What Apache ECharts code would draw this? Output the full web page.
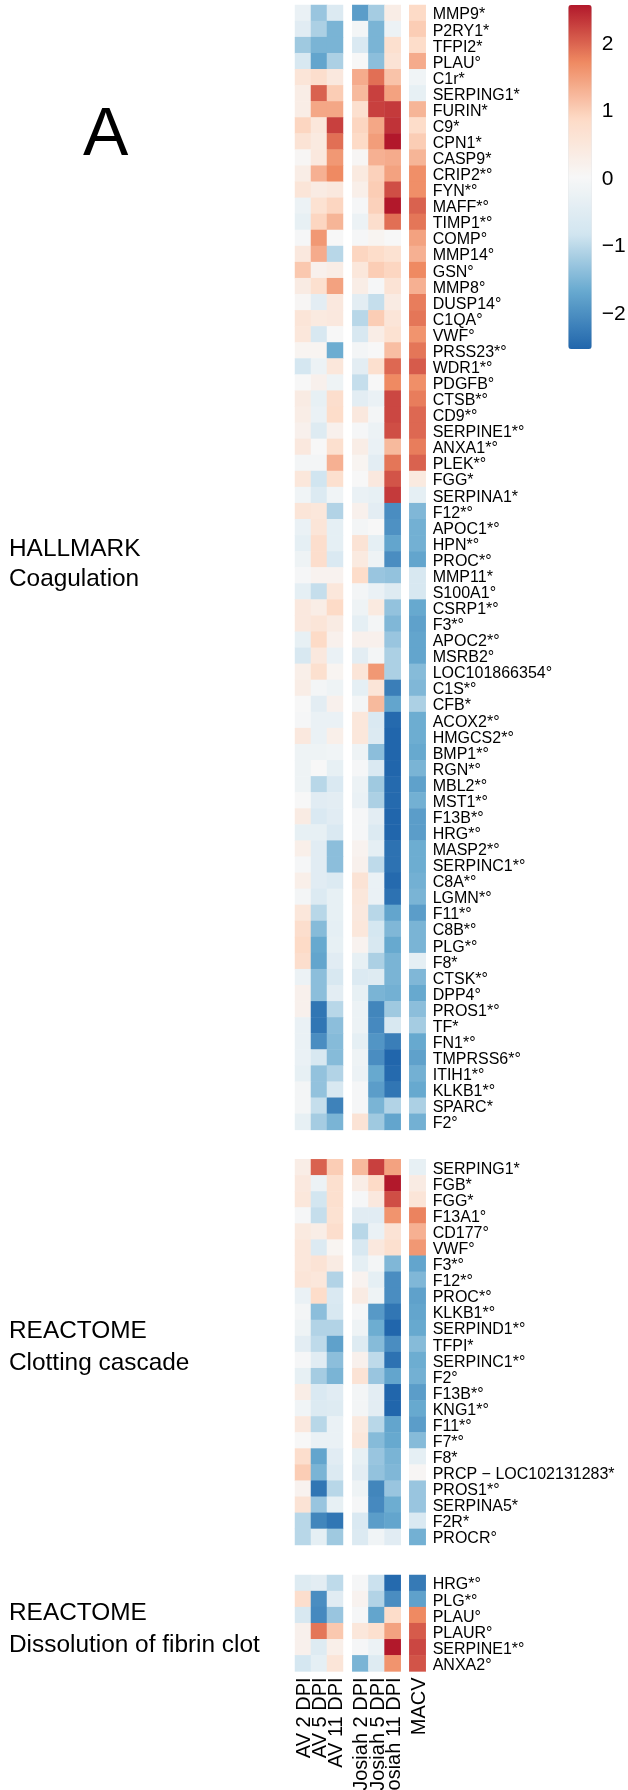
<!DOCTYPE html>
<html><head><meta charset="utf-8">
<style>html,body{margin:0;padding:0;background:#fff}#c{width:628px;height:1790px}</style>
<script src="https://cdn.jsdelivr.net/npm/echarts@6/dist/echarts.min.js"></script>
</head><body><div id="c"></div>
<script>
const colLabels = ['AV 2 DPI','AV 5 DPI','AV 11 DPI','Josiah 2 DPI','Josiah 5 DPI','Josiah 11 DPI','MACV'];
const colorTicks = [-2,-1,0,1,2];
const rampColors = ['#2166AC','#67A9CF','#D1E5F0','#F7F7F7','#FDDBC7','#EF8A62','#B2182B'];

const hallmarkGenes = ['MMP9*','P2RY1*','TFPI2*','PLAU°','C1r*','SERPING1*','FURIN*','C9*','CPN1*','CASP9*','CRIP2*°','FYN*°','MAFF*°','TIMP1*°','COMP°','MMP14°','GSN°','MMP8°','DUSP14°','C1QA°','VWF°','PRSS23*°','WDR1*°','PDGFB°','CTSB*°','CD9*°','SERPINE1*°','ANXA1*°','PLEK*°','FGG*','SERPINA1*','F12*°','APOC1*°','HPN*°','PROC*°','MMP11*','S100A1°','CSRP1*°','F3*°','APOC2*°','MSRB2°','LOC101866354°','C1S*°','CFB*','ACOX2*°','HMGCS2*°','BMP1*°','RGN*°','MBL2*°','MST1*°','F13B*°','HRG*°','MASP2*°','SERPINC1*°','C8A*°','LGMN*°','F11*°','C8B*°','PLG*°','F8*','CTSK*°','DPP4°','PROS1*°','TF*','FN1*°','TMPRSS6*°','ITIH1*°','KLKB1*°','SPARC*','F2°'];
const hallmarkValues = [
[-0.3,-1.3,-0.6,-1.85,-1.2,0.3,0.85],
[-0.5,-1.15,-1.55,-0.1,-1.55,-0.25,1.0],
[-1.25,-1.55,-1.55,-0.65,-1.55,0.7,0.8],
[-0.7,-1.75,-1.15,0,-1.4,0.6,1.35],
[0.55,0.75,0.45,1.35,1.9,1.1,-0.15],
[0.3,2.0,1.0,1.2,2.25,1.45,-0.35],
[0.3,1.4,1.4,0.7,2.25,2.3,1.25],
[0.9,0.5,2.25,0.9,1.4,2.35,0.8],
[0.6,0.4,1.9,0.85,1.5,2.55,1.0],
[0.05,0.45,1.55,0.05,1.3,1.35,1.25],
[0.3,1.3,1.7,0.4,0.95,1.45,1.65],
[0.55,0.35,0.45,0.25,1.0,2.15,1.65],
[-0.25,0.65,0.9,-0.05,0.95,2.55,2.0],
[-0.35,0.9,1.25,-0.25,0.75,1.9,1.85],
[-0.05,1.55,0,-0.05,0.1,0,1.45],
[0.45,1.35,-1.05,0.9,0.8,0.65,1.3],
[1.05,0.2,0.3,0.5,1.0,0.9,1.7],
[0.35,0.7,1.45,0.3,-0.05,0.6,1.3],
[0.05,-0.45,0.45,-0.45,-0.95,0.35,1.8],
[0.55,0.4,0.45,-1.05,1.0,0.55,1.85],
[0.5,-0.7,0,-0.7,0.3,0.65,1.6],
[0.1,0.1,-1.65,-0.1,0,1.15,1.85],
[-0.75,-0.25,0.5,-0.45,0.7,1.95,2.05],
[0,0.2,-0.2,-0.95,0,1.7,1.65],
[0.35,-0.35,0.75,-0.45,-0.3,2.2,1.8],
[0.3,-0.3,0.8,0.45,-0.1,2.2,1.95],
[0.2,-0.55,0.2,-0.05,-0.25,2.15,1.95],
[0.45,0,0.7,0.3,-0.3,1.2,1.8],
[-0.1,-0.1,1.3,0.1,-0.45,1.85,2.0],
[0.5,-0.85,0.7,0,0.45,2.1,0.4],
[-0.15,-0.6,-0.15,-0.3,-0.35,2.3,-0.4],
[0.55,0.5,-1.1,0.2,-0.45,-2.05,-1.5],
[-0.3,0.55,-0.4,-0.1,0,-2.0,-1.6],
[-0.4,0.75,-0.4,0.6,-0.4,-1.75,-1.6],
[-0.2,0.75,-0.65,0.4,-0.2,-2.05,-1.75],
[-0.05,0.15,0.15,0.8,-1.3,-1.35,-0.7],
[-0.4,-0.95,0.5,-0.1,-0.3,-0.55,-0.7],
[0.45,0.3,0.85,-0.2,0.4,-1.35,-1.7],
[0.45,0.55,0.35,-0.4,-0.1,-1.5,-1.8],
[-0.35,0.85,0.2,0.2,0.2,-1.3,-1.75],
[-0.7,0.45,-0.3,-0.45,-0.1,-1.15,-1.75],
[0.25,0.7,0.1,0.55,1.55,-1.15,-1.45],
[0.3,-0.1,-0.2,-0.4,0.55,-2.25,-1.5],
[0,-0.45,0.2,-0.1,1.2,-1.75,-1.15],
[-0.05,-0.3,-0.3,0.5,-0.65,-2.5,-1.65],
[0.45,-0.3,0.25,0.5,-0.6,-2.55,-1.65],
[-0.2,-0.2,-0.15,-0.2,-1.4,-2.55,-1.7],
[-0.2,0,-0.35,-0.05,-0.65,-2.55,-1.55],
[-0.2,-1.05,-0.65,-0.25,-1.25,-2.5,-1.8],
[0,-0.5,-0.45,-0.3,-1.15,-2.5,-1.6],
[0.35,-0.65,-0.5,-0.05,-0.45,-2.55,-1.85],
[-0.35,-0.35,-0.65,-0.05,-0.6,-2.55,-1.85],
[0.25,-0.5,-1.4,0.15,-0.4,-2.4,-1.65],
[-0.05,-0.5,-1.4,0.2,-1.0,-2.4,-1.65],
[0.25,-0.5,-0.6,0.6,-0.3,-2.5,-1.6],
[-0.1,-0.6,-0.35,0.5,-0.3,-2.4,-1.55],
[0.5,-1.05,-0.35,0.45,-1.05,-1.75,-1.85],
[0.75,-1.45,-0.4,0.5,-0.75,-1.5,-1.55],
[0.85,-1.7,-0.35,0.15,-0.7,-1.7,-1.55],
[0.75,-1.75,-0.5,-0.35,-1.15,-1.55,-0.4],
[-0.25,-1.4,-0.7,-0.6,-0.55,-1.55,-1.5],
[0.2,-1.4,-0.45,-0.35,-1.55,-1.6,-1.7],
[0.2,-2.35,-1.05,-0.25,-2.15,-1.25,-1.4],
[-0.3,-2.35,-1.4,-0.25,-2.1,-0.7,-1.2],
[-0.3,-2.05,-1.45,-0.4,-1.95,-2.25,-1.7],
[-0.3,-0.7,-1.45,-0.2,-2.05,-2.55,-1.8],
[-0.35,-1.35,-1.1,-0.25,-1.7,-2.5,-1.6],
[-0.1,-1.35,-0.7,-0.05,-1.85,-2.35,-1.7],
[-0.1,-0.95,-2.2,-0.05,-1.55,-1.1,-1.15],
[-0.35,-1.2,-1.55,0.6,-1.25,-1.75,-1.6]
];

const clottingGenes = ['SERPING1*','FGB*','FGG*','F13A1°','CD177°','VWF°','F3*°','F12*°','PROC*°','KLKB1*°','SERPIND1*°','TFPI*','SERPINC1*°','F2°','F13B*°','KNG1*°','F11*°','F7*°','F8*','PRCP − LOC102131283*','PROS1*°','SERPINA5*','F2R*','PROCR°'];
const clottingValues = [
[0.3,2.0,1.0,1.2,2.25,1.45,-0.35],
[0.45,-0.25,0.7,0.3,0.85,2.55,0.35],
[0.5,-0.8,0.7,-0.05,0.45,2.15,0.55],
[-0.05,-0.95,0.65,-0.5,-0.5,1.6,1.75],
[0.4,0.3,0.75,-1.05,-0.3,0.6,1.3],
[0.5,-0.6,0.1,-0.7,0.45,0.7,1.55],
[0.5,0.6,0.35,-0.4,-0.1,-1.5,-1.75],
[0.55,0.5,-1.1,0.15,-0.4,-2.05,-1.5],
[-0.3,0.8,-0.65,0.35,-0.2,-2.05,-1.8],
[-0.1,-1.4,-0.7,-0.05,-1.9,-2.35,-1.75],
[-0.2,-1.1,-1.1,-0.2,-1.65,-2.55,-1.7],
[-0.45,-1.0,-1.8,-0.55,-1.45,-2.05,-1.45],
[-0.05,-0.5,-1.4,0.2,-1.0,-2.4,-1.65],
[-0.35,-1.2,-1.55,0.6,-1.3,-1.75,-1.6],
[0.3,-0.65,-0.5,-0.1,-0.45,-2.55,-1.85],
[-0.15,-0.6,-0.55,-0.1,-0.45,-2.55,-1.7],
[0.45,-1.05,-0.3,0.4,-1.05,-1.75,-1.85],
[0,-0.3,-0.3,0.5,-1.45,-1.7,-1.45],
[0.75,-1.75,-0.5,-0.35,-1.3,-1.55,-0.4],
[1.0,-1.55,-0.6,-0.45,-1.35,-1.5,0.05],
[0.15,-2.35,-1.05,-0.2,-2.15,-1.3,-1.3],
[0.6,-1.3,-0.35,-0.05,-2.1,-1.65,-1.3],
[-1.05,-2.15,-2.35,-0.65,-1.85,-1.75,-0.65],
[-1.05,-0.4,-1.25,-0.6,-0.15,-0.5,-1.6]
];

const fibrinGenes = ['HRG*°','PLG*°','PLAU°','PLAUR°','SERPINE1*°','ANXA2°'];
const fibrinValues = [
[-0.55,-0.45,-1.0,-0.05,-0.9,-2.5,-2.3],
[0.75,-2.05,-0.5,0.15,-1.1,-2.05,-1.8],
[-0.7,-2.1,-1.3,-0.05,-1.75,0.8,1.7],
[0.2,1.85,1.05,0.5,0.7,1.45,2.05],
[0.2,-0.55,0.25,-0.05,-0.25,2.55,2.2],
[-0.75,-0.4,0.55,-1.55,-0.55,1.6,2.1]
];

const FONT = '"Liberation Sans", Arial, sans-serif';
const ROW = 16.07, SCALE = 2.55;
const ROW_LABEL_NUDGE = 2, COL_LABEL_NUDGE = 1.5;
const blocks = [
  {top: 5, genes: hallmarkGenes, values: hallmarkValues},
  {top: 1159.3, genes: clottingGenes, values: clottingValues},
  {top: 1575, genes: fibrinGenes, values: fibrinValues, xLabels: true}
];
const groups = [
  {left: 295, width: 48, from: 0, to: 3},
  {left: 352.3, width: 48.4, from: 3, to: 6},
  {left: 409.3, width: 16.4, from: 6, to: 7, rowLabels: true}
];

const grid = [], xAxis = [], yAxis = [], series = [];
const bare = {axisLine: {show: false}, axisTick: {show: false}, splitLine: {show: false}};
function addGrid(left, top, g, b, showX, showY) {
  const i = grid.length;
  grid.push({left, top, width: g.width, height: ROW * b.genes.length, containLabel: false, outerBoundsMode: 'none'});
  xAxis.push({type: 'category', gridIndex: i, position: 'bottom', data: colLabels.slice(g.from, g.to), ...bare,
    axisLabel: {show: showX, interval: 0, rotate: 90, margin: 6, fontSize: 20,
      fontFamily: FONT, color: '#000', hideOverlap: false}});
  yAxis.push({type: 'category', gridIndex: i, position: 'right', inverse: true, data: b.genes, ...bare,
    axisLabel: {show: showY, interval: 0, margin: 7, fontSize: 16,
      fontFamily: FONT, color: '#000', hideOverlap: false}});
  return i;
}
blocks.forEach(b => groups.forEach(g => {
  const i = addGrid(g.left, b.top, g, b, false, false);
  const data = [];
  b.values.forEach((row, r) => row.slice(g.from, g.to).forEach((v, c) => data.push([c, r, v])));
  series.push({type: 'heatmap', xAxisIndex: i, yAxisIndex: i, data, animation: false,
    progressive: 0, emphasis: {disabled: true}, itemStyle: {borderWidth: 0}});
  if (g.rowLabels) addGrid(g.left, b.top + ROW_LABEL_NUDGE, g, b, false, true);
  if (b.xLabels) addGrid(g.left + COL_LABEL_NUDGE, b.top, g, b, true, false);
}));

// colour bar axis: tick labels only, the ramp itself is the visualMap
const cb = grid.length;
grid.push({left: 568.3, top: 7, width: 23.4, height: 344, containLabel: false, outerBoundsMode: 'none'});
xAxis.push({type: 'value', gridIndex: cb, show: false, min: 0, max: 1});
yAxis.push({type: 'value', gridIndex: cb, position: 'right', min: -SCALE, max: SCALE, ...bare,
  axisLabel: {customValues: colorTicks, margin: 10, fontSize: 21, fontFamily: FONT, color: '#000',
    showMinLabel: true, showMaxLabel: true,
    formatter: v => String(v).replace('-', '\u2212')}});

const leftText = (text, y) => ({type: 'text', x: 9, y, silent: true,
  style: {text, fill: '#000', font: '24.4px ' + FONT, verticalAlign: 'middle'}});

const chart = echarts.init(document.getElementById('c'), null, {renderer: 'canvas'});
chart.setOption({
  animation: false, backgroundColor: '#fff',
  textStyle: {fontFamily: FONT},
  grid, xAxis, yAxis, series,
  visualMap: [{type: 'continuous', min: -SCALE, max: SCALE, seriesIndex: series.map((s, i) => i),
    left: 568.3, top: 5, itemWidth: 23.4, itemHeight: 344, padding: 0, calculable: false,
    hoverLink: false, text: null, showLabel: false, inRange: {color: rampColors}}],
  graphic: [
    {type: 'text', x: 83, y: 136, silent: true,
      style: {text: 'A', fill: '#000', font: '68px ' + FONT, verticalAlign: 'middle'}},
    leftText('HALLMARK', 549), leftText('Coagulation', 579.5),
    leftText('REACTOME', 1331), leftText('Clotting cascade', 1363),
    leftText('REACTOME', 1613), leftText('Dissolution of fibrin clot', 1645)
  ]
});
</script></body></html>
